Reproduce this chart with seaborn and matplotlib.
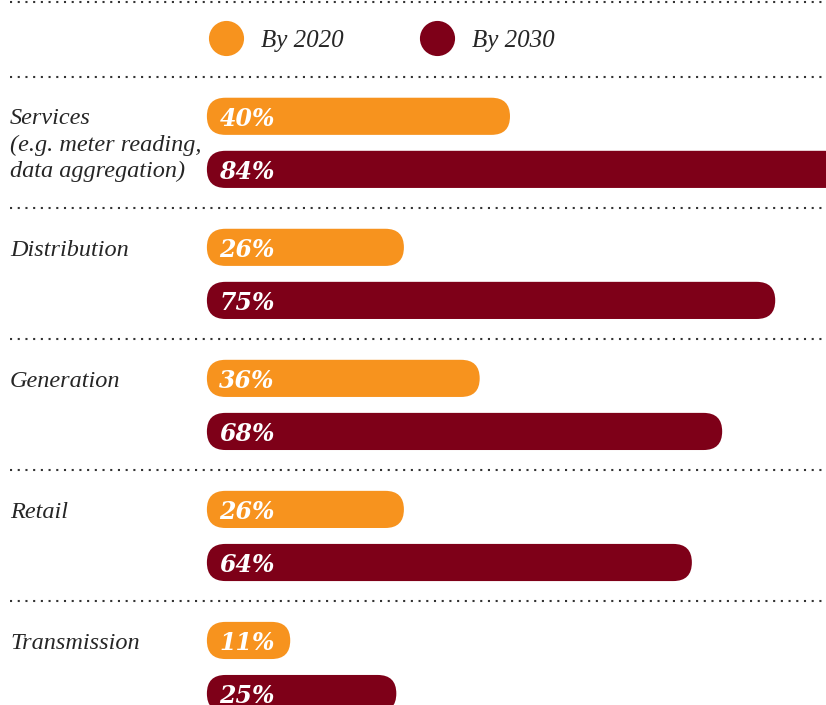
import numpy as np
import pandas as pd
import matplotlib.pyplot as plt
import seaborn as sns
from matplotlib.patches import FancyBboxPatch
from matplotlib.transforms import IdentityTransform

# ----------------------------------------
# Data
# ----------------------------------------

sectors = [
    "Services\n(e.g. meter reading,\ndata aggregation)",
    "Distribution",
    "Generation",
    "Retail",
    "Transmission",
]
share_2020 = [40, 26, 36, 26, 11]
share_2030 = [84, 75, 68, 64, 25]
series = ["By 2020", "By 2030"]
colors = {"By 2020": "#F7931E", "By 2030": "#7E0018"}

# two bars per sector, stacked one under the other
rows = []
for i, sector in enumerate(sectors):
    for j, (name, vals) in enumerate(zip(series, [share_2020, share_2030])):
        rows.append({
            "sector": sector,
            "series": name,
            "value": vals[i],
            "pos": i + (j - 0.5) * 0.405,
        })
df = pd.DataFrame(rows)

# ----------------------------------------
# Figure
# ----------------------------------------

sns.set_theme(style="white")
plt.rcParams["font.family"] = ["Liberation Serif", "DejaVu Serif"]

fig = plt.figure(figsize=(8.26, 7.05), dpi=100)
ax = fig.add_axes([0, 0, 1, 1])

sns.barplot(
    data=df,
    x="value",
    y="pos",
    hue="series",
    orient="h",
    native_scale=True,
    dodge=False,
    palette=colors,
    saturation=1,
    width=0.7,
    legend=False,
    ax=ax,
)

ax.set_xlim(-27.3, 81.7)
ax.set_ylim(4.29, -1.09)
ax.axis("off")

# swap the square bars for pill shaped ones
for bar in list(ax.patches):
    x0, y0 = bar.get_x(), bar.get_y()
    w, h = bar.get_width(), bar.get_height()
    (px0, py0), (px1, py1) = ax.transData.transform([(x0, y0), (x0 + w, y0 + h)])
    left, bottom = min(px0, px1), min(py0, py1)
    bw, bh = abs(px1 - px0), abs(py1 - py0)
    pill = FancyBboxPatch(
        (left, bottom), bw, bh,
        boxstyle=f"round,pad=0,rounding_size={bh / 2}",
        transform=IdentityTransform(),
        facecolor=bar.get_facecolor(),
        edgecolor="none",
    )
    ax.add_patch(pill)
    bar.remove()

# value labels inside bars
for _, r in df.iterrows():
    ax.annotate(
        f"{r.value}%",
        xy=(0, r.pos),
        xytext=(9.0, 0.2),
        textcoords="offset points",
        va="center_baseline",
        ha="left",
        color="white",
        fontsize=17,
        fontweight="bold",
        fontstyle="italic",
        family="DejaVu Serif",
    )

# sector labels, one line at a time
text_color = "#262626"
for i, sector in enumerate(sectors):
    for k, line in enumerate(sector.split("\n")):
        ax.annotate(
            line,
            xy=(0.012, i - 0.2025),
            xycoords=("axes fraction", "data"),
            xytext=(0, -5.9 - 18.8 * k),
            textcoords="offset points",
            va="baseline",
            ha="left",
            fontsize=17.5,
            fontstyle="italic",
            color=text_color,
        )

# dotted separators
for y in [-1.072] + [i + 0.5 for i in range(-1, 4)]:
    ax.axhline(y, xmin=0.012, xmax=1, color="#333333",
               linewidth=1.5, linestyle=(0, (1, 2.7)))

# legend
legend_x = [0.2736, 0.529]
for name, lx in zip(series, legend_x):
    ax.scatter([lx], [0.946], s=640, color=colors[name],
               transform=ax.transAxes, clip_on=False, linewidth=0)
    ax.text(lx + 0.0425, 0.946, name, transform=ax.transAxes,
            va="center_baseline", ha="left", fontsize=18,
            fontstyle="italic", color=text_color)

plt.savefig("out.png", dpi=100)
